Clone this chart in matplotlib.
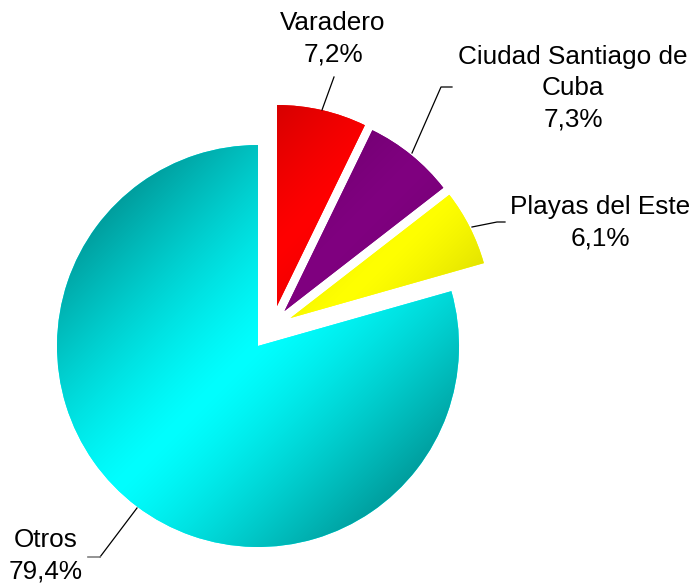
import numpy as np
import matplotlib
matplotlib.use("Agg")
import matplotlib.pyplot as plt
from matplotlib.colors import to_rgb

# ---- data ----
labels = ["Varadero", "Ciudad Santiago de\nCuba", "Playas del Este", "Otros"]
values = [7.2, 7.3, 6.1, 79.4]
pct_labels = ["7,2%", "7,3%", "6,1%", "79,4%"]
colors = ["#FF0000", "#800080", "#FFFF00", "#00FFFF"]

# ---- style / layout ----
W, H, DPI = 691, 586, 100
center = (258, 586 - 346)
radius = 201
# offsets (in px) of exploded slices
offsets = [(19, 40), (26.5, 35), (32.5, 28), (0, 0)]
label_pos = [(333, 586 - 39), (573, 586 - 88), (600, 586 - 223), (46, 586 - 556)]
leaders = [
    [(334, 77), (322, 110)],
    [(452, 87), (441, 87), (412, 153)],
    [(505, 222), (497, 222), (472, 227)],
    [(100, 557), (137, 508)],
]

plt.rcParams['font.family'] = ['Liberation Sans', 'DejaVu Sans']

fig = plt.figure(figsize=(W / DPI, H / DPI), dpi=DPI)
ax = fig.add_axes([0, 0, 1, 1])

wedges, _ = ax.pie(values, colors=colors, startangle=90, counterclock=False,
                   center=center, radius=radius, wedgeprops=dict(linewidth=0),
                   frame=True)

for w, (ox, oy), col in zip(wedges, offsets, colors):
    cx, cy = w.center
    cx, cy = cx + ox, cy + oy
    w.set_center((cx, cy))
    w.set_zorder(1)
    ext = w.get_path().get_extents()
    gx, gy = (ext.x0 + ext.x1) / 2, (ext.y0 + ext.y1) / 2
    # diagonal gradient shading centred on the slice's bounding box
    n = 300
    xs = np.linspace(cx - radius, cx + radius, n)
    ys = np.linspace(cy - radius, cy + radius, n)
    X, Y = np.meshgrid(xs, ys)
    u = ((X - gx) - (Y - gy)) / np.sqrt(2) / radius
    f = 1 - 0.38 * np.clip(np.abs(u), 0, 1) ** 1.3
    base = np.array(to_rgb(col))
    img = np.clip(base[None, None, :] * f[..., None], 0, 1)
    im = ax.imshow(img, extent=(cx - radius, cx + radius, cy - radius, cy + radius),
                   origin='lower', interpolation='bilinear', zorder=2)
    im.set_clip_path(w)

for lab, pct, (x, y) in zip(labels, pct_labels, label_pos):
    ax.text(x, y, f"{lab}\n{pct}", ha='center', va='center', fontsize=18.8,
            linespacing=1.38, color='black', zorder=5)

for i, pts in enumerate(leaders):
    xs = [p[0] for p in pts]
    ys = [586 - p[1] for p in pts]
    ax.plot(xs, ys, color='black', lw=0.9, zorder=4)
ax.plot([88, 100], [586 - 557, 586 - 557], color='#808080', lw=1.2, zorder=4)

ax.set_xlim(0, W)
ax.set_ylim(0, H)
ax.set_aspect('auto')
ax.axis('off')

fig.savefig("out.png", dpi=DPI)
